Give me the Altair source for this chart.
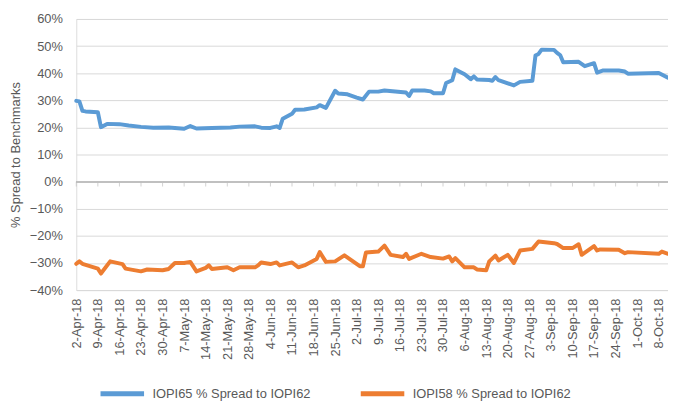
import altair as alt
import pandas as pd

# ---------------- data ----------------
s65_name = "IOPI65 % Spread to IOPI62"
s58_name = "IOPI58 % Spread to IOPI62"

s65_dates = ["2018-04-02", "2018-04-03", "2018-04-04", "2018-04-05", "2018-04-09", "2018-04-10",
             "2018-04-12", "2018-04-16", "2018-04-19", "2018-04-23", "2018-04-27", "2018-05-02",
             "2018-05-04", "2018-05-07", "2018-05-09", "2018-05-11", "2018-05-16", "2018-05-22",
             "2018-05-25", "2018-05-30", "2018-06-01", "2018-06-04", "2018-06-06", "2018-06-07",
             "2018-06-08", "2018-06-11", "2018-06-12", "2018-06-15", "2018-06-19", "2018-06-20",
             "2018-06-22", "2018-06-25", "2018-06-26", "2018-06-29", "2018-07-02", "2018-07-04",
             "2018-07-06", "2018-07-09", "2018-07-11", "2018-07-18", "2018-07-19", "2018-07-20",
             "2018-07-24", "2018-07-26", "2018-07-27", "2018-07-30", "2018-07-31", "2018-08-02",
             "2018-08-03", "2018-08-06", "2018-08-08", "2018-08-09", "2018-08-10", "2018-08-14",
             "2018-08-15", "2018-08-16", "2018-08-17", "2018-08-22", "2018-08-24", "2018-08-28",
             "2018-08-29", "2018-08-30", "2018-08-31", "2018-09-04", "2018-09-05", "2018-09-06",
             "2018-09-07", "2018-09-12", "2018-09-14", "2018-09-17", "2018-09-18", "2018-09-20",
             "2018-09-25", "2018-09-27", "2018-09-28", "2018-10-08", "2018-10-11"]
s65_values = [29.8, 29.6, 26.1, 25.9, 25.6, 20.1,
              21.3, 21.2, 20.7, 20.2, 19.9, 20.0,
              19.8, 19.5, 20.5, 19.6, 19.8, 20.0,
              20.3, 20.4, 19.9, 19.8, 20.4, 19.8,
              23.2, 25.0, 26.5, 26.6, 27.4, 28.2,
              27.2, 33.5, 32.5, 32.2, 31.0, 30.3,
              33.2, 33.2, 33.6, 32.9, 31.6, 33.6,
              33.6, 33.3, 32.6, 32.6, 36.4, 37.4,
              41.4, 39.6, 37.8, 38.8, 37.7, 37.5,
              37.2, 38.6, 37.4, 35.5, 36.8, 37.2,
              46.5, 47.1, 48.7, 48.6, 47.5, 46.7,
              44.0, 44.2, 42.6, 43.7, 40.2, 41.0,
              41.0, 40.6, 39.8, 40.1, 38.3]

s58_dates = ["2018-04-02", "2018-04-03", "2018-04-04", "2018-04-09", "2018-04-10", "2018-04-13",
             "2018-04-17", "2018-04-18", "2018-04-23", "2018-04-25", "2018-04-30", "2018-05-02",
             "2018-05-04", "2018-05-07", "2018-05-09", "2018-05-11", "2018-05-14", "2018-05-15",
             "2018-05-16", "2018-05-21", "2018-05-23", "2018-05-25", "2018-05-30", "2018-05-31",
             "2018-06-01", "2018-06-04", "2018-06-06", "2018-06-07", "2018-06-11", "2018-06-13",
             "2018-06-15", "2018-06-19", "2018-06-20", "2018-06-22", "2018-06-25", "2018-06-28",
             "2018-07-03", "2018-07-04", "2018-07-05", "2018-07-09", "2018-07-11", "2018-07-13",
             "2018-07-17", "2018-07-18", "2018-07-19", "2018-07-23", "2018-07-26", "2018-07-30",
             "2018-08-01", "2018-08-02", "2018-08-03", "2018-08-06", "2018-08-09", "2018-08-10",
             "2018-08-13", "2018-08-14", "2018-08-16", "2018-08-17", "2018-08-20", "2018-08-22",
             "2018-08-24", "2018-08-28", "2018-08-30", "2018-09-04", "2018-09-05", "2018-09-07",
             "2018-09-10", "2018-09-12", "2018-09-13", "2018-09-17", "2018-09-18", "2018-09-19",
             "2018-09-25", "2018-09-27", "2018-09-28", "2018-10-08", "2018-10-09", "2018-10-11"]
s58_values = [-30.3, -29.4, -30.3, -32.1, -33.9, -29.4,
              -30.4, -32.1, -33.1, -32.4, -32.7, -32.2,
              -30.0, -30.0, -29.6, -33.1, -31.8, -30.9,
              -32.2, -31.6, -32.7, -31.6, -31.6, -30.9,
              -29.8, -30.4, -29.8, -30.9, -29.8, -31.6,
              -30.9, -28.5, -26.0, -29.6, -29.4, -27.2,
              -31.2, -31.2, -26.1, -25.8, -23.6, -27.0,
              -27.8, -26.6, -28.5, -26.6, -27.8, -28.4,
              -27.6, -29.4, -28.2, -31.6, -31.6, -32.4,
              -32.7, -29.4, -27.3, -29.1, -27.0, -30.0,
              -25.4, -24.8, -22.1, -22.7, -23.0, -24.5,
              -24.5, -23.1, -27.0, -23.8, -25.4, -25.0,
              -25.1, -26.4, -26.0, -26.6, -25.8, -26.6]

y_ticks = [-0.4, -0.3, -0.2, -0.1, 0.0, 0.1, 0.2, 0.3, 0.4, 0.5, 0.6]
x_tick_dates = list(pd.date_range("2018-04-02", "2018-10-08", freq="7D"))

# ---------------- tables ----------------
df = pd.concat([
    pd.DataFrame({"date": pd.to_datetime(s65_dates), "value": [v / 100 for v in s65_values], "series": s65_name}),
    pd.DataFrame({"date": pd.to_datetime(s58_dates), "value": [v / 100 for v in s58_values], "series": s58_name}),
], ignore_index=True)
ticks_df = pd.DataFrame({"date": x_tick_dates, "zero": 0.0})

FONT = "Liberation Sans"
TXT = "#595959"

x_scale = alt.Scale(domain=[alt.DateTime(year=2018, month=4, date=2),
                            alt.DateTime(year=2018, month=10, date=11)], nice=False)
y_scale = alt.Scale(domain=[-0.4, 0.6], nice=False)

x_axis = alt.Axis(values=[alt.DateTime(year=d.year, month=d.month, date=d.day) for d in x_tick_dates],
                  format="%-d-%b-%y", labelAngle=270, labelPadding=8, grid=False, ticks=False,
                  domain=False, title=None, labelOverlap=False, labelFlush=False,
                  labelFontSize=13, labelColor=TXT, labelFont=FONT, labelBound=False)
y_axis = alt.Axis(values=y_ticks, format=".0%", grid=True, gridColor="#d9d9d9", domain=False,
                  ticks=False, labelPadding=14, labelFontSize=13, labelColor=TXT, labelFont=FONT,
                  labelOverlap=False, labelFlush=False,
                  title="% Spread to Benchmarks", titleFontSize=13, titleFontWeight="normal",
                  titleColor=TXT, titleFont=FONT, titlePadding=7)

lines = alt.Chart(df).mark_line(strokeWidth=4, strokeCap="round", strokeJoin="round").encode(
    x=alt.X("date:T", scale=x_scale, axis=x_axis),
    y=alt.Y("value:Q", scale=y_scale, axis=y_axis),
    color=alt.Color("series:N",
                    scale=alt.Scale(domain=[s65_name, s58_name], range=["#5B9BD5", "#ED7D31"]),
                    legend=alt.Legend(orient="none", legendX=22, legendY=354, direction="horizontal",
                                      title=None, symbolType="stroke", symbolSize=1936,
                                      symbolStrokeWidth=5, labelFontSize=13, labelColor=TXT,
                                      labelFont=FONT, labelLimit=400, columnPadding=40,
                                      labelOffset=6)),
    detail="series:N",
)

zero_line = alt.Chart(ticks_df).mark_rule(color="#bfbfbf", strokeWidth=1).encode(
    x=alt.value(0), x2=alt.value(598),
    y=alt.Y("zero:Q", scale=y_scale, axis=y_axis),
)

tick_marks = alt.Chart(ticks_df).mark_tick(orient="vertical", size=5, thickness=1,
                                           color="#bfbfbf", yOffset=2.5).encode(
    x=alt.X("date:T", scale=x_scale, axis=x_axis),
    y=alt.Y("zero:Q", scale=y_scale, axis=y_axis),
)

chart = alt.layer(lines, zero_line, tick_marks).properties(
    width=598, height=274,
    autosize=alt.AutoSizeParams(type="none"),
    padding={"left": 69, "top": 9, "right": 0, "bottom": 110},
).configure_view(strokeWidth=0, stroke="transparent").configure(font=FONT)

chart.save("out.html", embed_options={"renderer": "svg", "actions": False})
